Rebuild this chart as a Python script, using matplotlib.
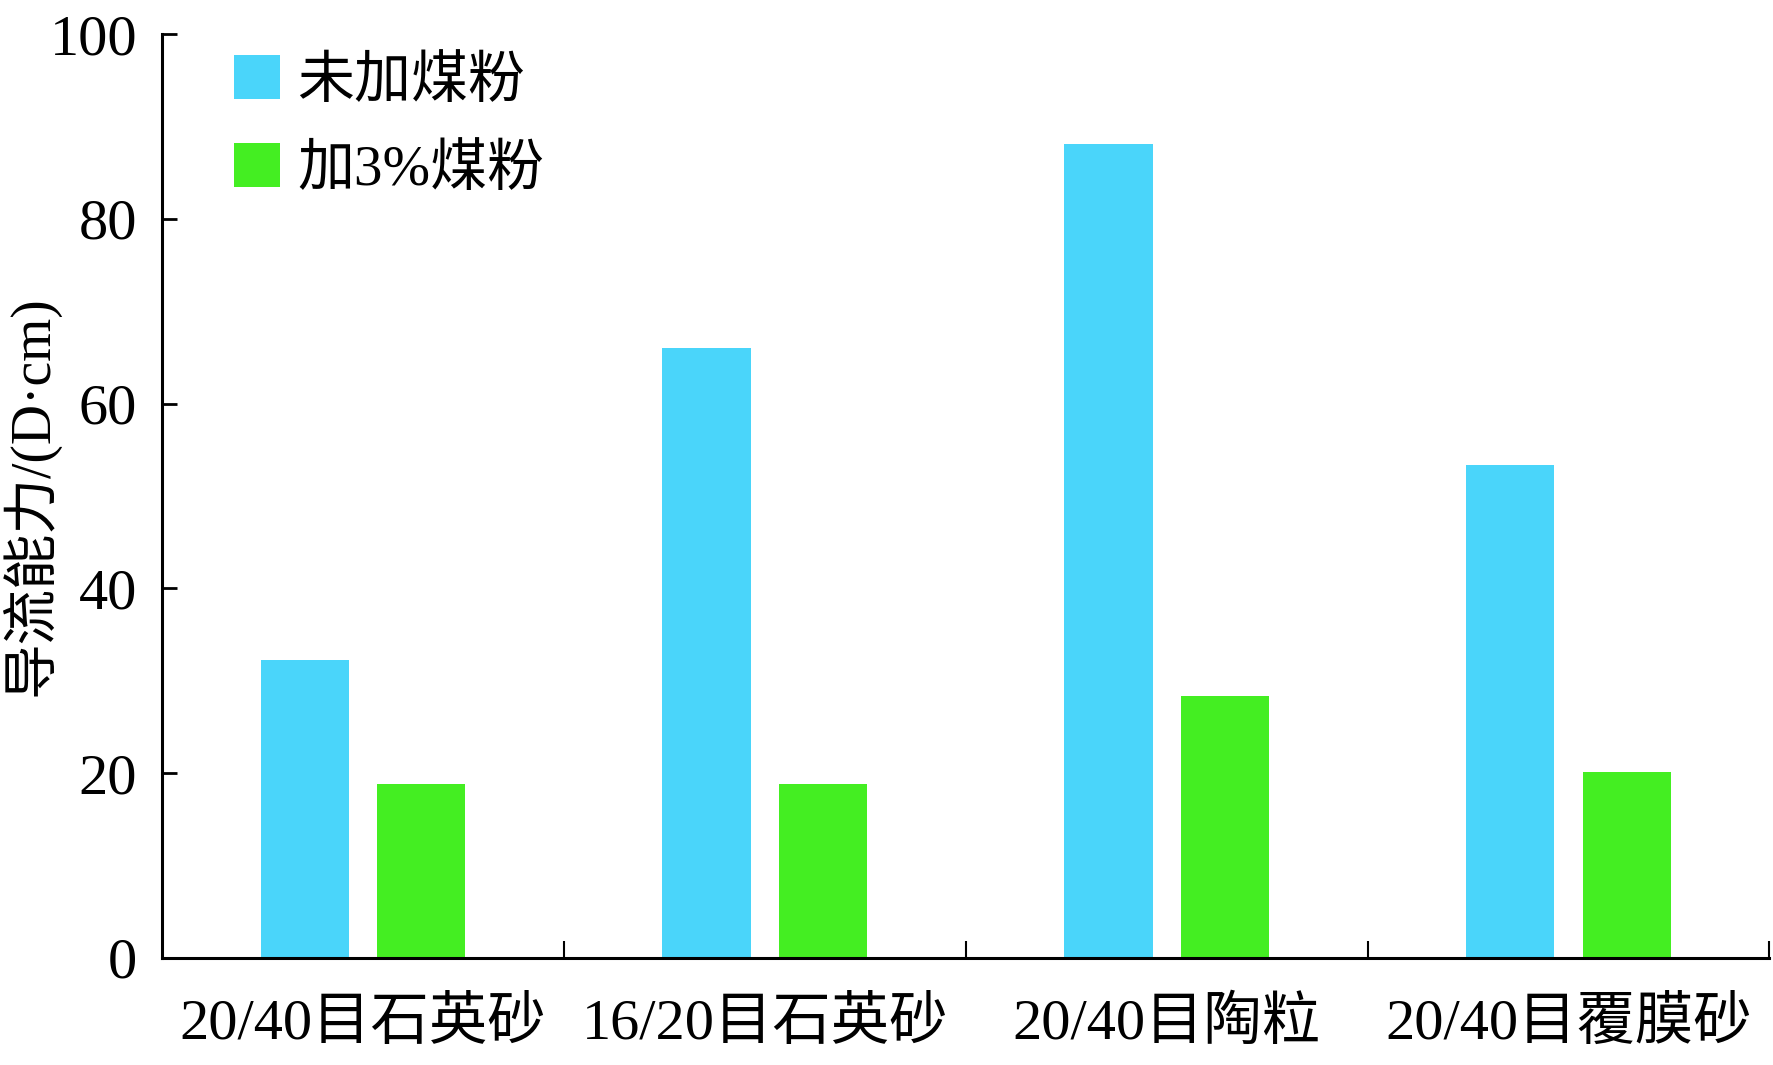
import numpy as np
import matplotlib.pyplot as plt
from matplotlib.ticker import FixedLocator

plt.rcParams['font.family'] = ['Liberation Serif', 'Noto Sans CJK SC']

categories = ['20/40目石英砂', '16/20目石英砂', '20/40目陶粒', '20/40目覆膜砂']
no_coal = [32.2, 66.0, 88.1, 53.4]      # 未加煤粉
coal_3pct = [18.8, 18.8, 28.4, 20.1]    # 加3%煤粉
series_names = ['未加煤粉', '加3%煤粉']
yticks = [0, 20, 40, 60, 80, 100]

fig = plt.figure(figsize=(17.73, 10.65), dpi=100)
ax = fig.add_axes([0.0914, 0.1005, 0.9066, 0.8675])

x = np.arange(len(categories))
w = 0.22
ax.bar(x - 0.145, no_coal, width=w, color='#4ad5fa', label=series_names[0])
ax.bar(x + 0.145, coal_3pct, width=w, color='#44ee22', label=series_names[1])

ax.set_xlim(-0.5, len(categories) - 0.5)
ax.set_ylim(0, 100)
ax.set_yticks(yticks)

ax.set_xticks(x)
ax.set_xticklabels(categories, fontsize=42)
ax.xaxis.set_minor_locator(FixedLocator(np.arange(0.5, len(categories), 1.0)))
ax.tick_params(axis='x', which='major', length=0, pad=28)
ax.tick_params(axis='x', which='minor', direction='in', length=12, width=1.5)
ax.tick_params(axis='y', direction='in', length=11, width=2, labelsize=42, pad=18)

for s in ['top', 'right']:
    ax.spines[s].set_visible(False)
for s in ['left', 'bottom']:
    ax.spines[s].set_linewidth(2.2)

ax.set_ylabel('导流能力/(D·cm)', fontsize=40)
ax.yaxis.set_label_coords(-0.064, 0.5)

ax.legend(loc='upper left', bbox_to_anchor=(0.045, 0.977), frameon=False,
          fontsize=41, handlelength=0.8, handleheight=0.8, handletextpad=0.3,
          labelspacing=0.6, borderpad=0, borderaxespad=0)

fig.savefig('out.png', dpi=100)
